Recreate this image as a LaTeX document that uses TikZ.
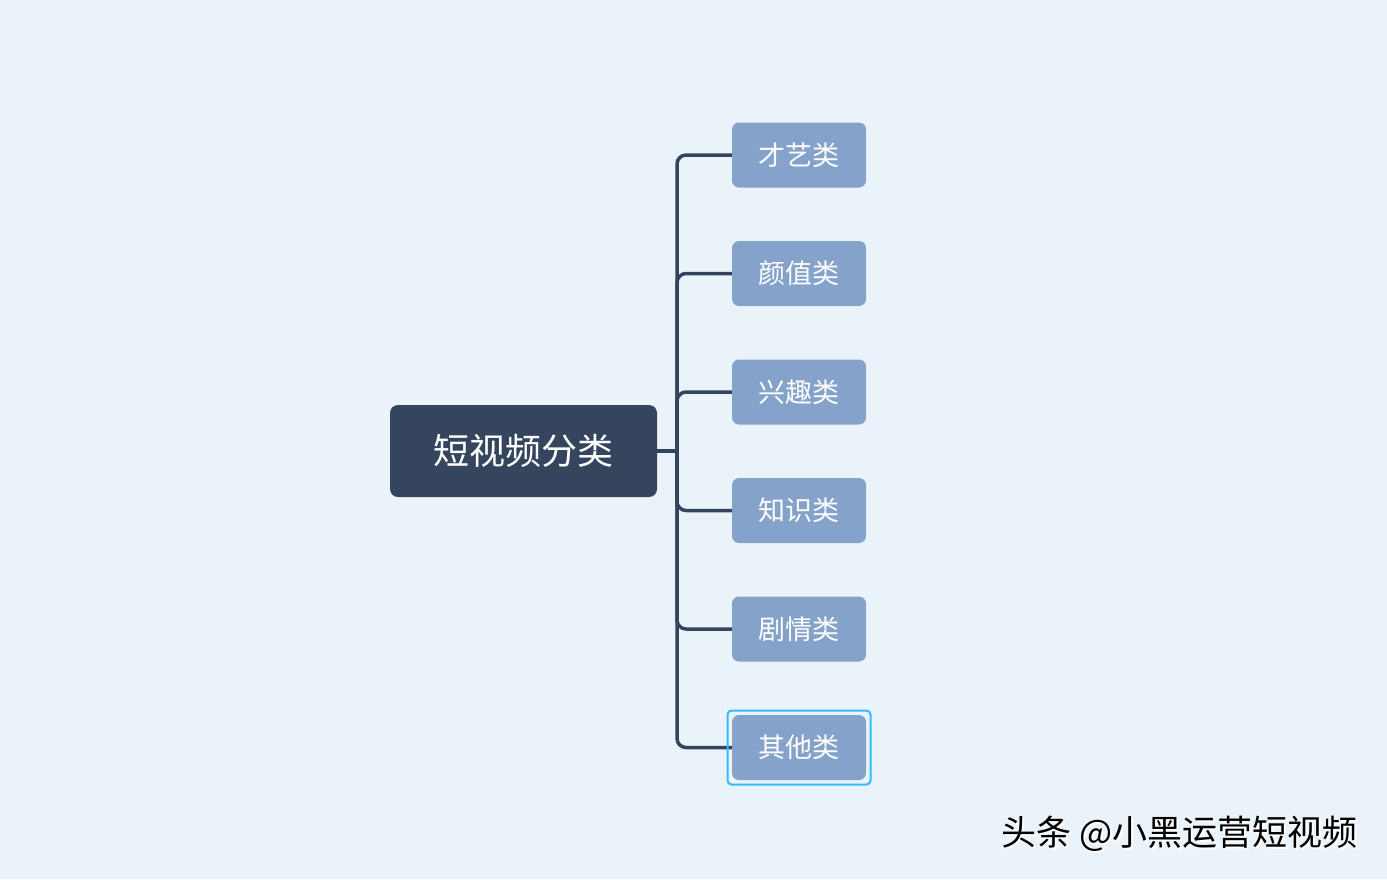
\documentclass[tikz,border=0pt]{standalone}
\usepackage{fontspec}
\newfontfamily\cjk{Noto Sans CJK SC}
\definecolor{bgc}{HTML}{EBF3FA}
\definecolor{rootc}{HTML}{34455D}
\definecolor{childc}{HTML}{85A3CA}
\definecolor{linec}{HTML}{34445C}
\definecolor{selc}{HTML}{2EBDFF}
\begin{document}
\begin{tikzpicture}[x=1pt,y=-1pt,
  rootbox/.style={fill=rootc,rounded corners=8pt,minimum width=267pt,minimum height=92pt,inner sep=0pt,text=white,font=\cjk\fontsize{36}{40}\selectfont},
  childbox/.style={fill=childc,rounded corners=7pt,minimum width=134pt,minimum height=65pt,inner sep=0pt,text=white,font=\cjk\fontsize{27}{30}\selectfont},
  branch/.style={draw=linec,line width=3.5pt,rounded corners=9pt},
  stub/.style={draw=linec,line width=3.5pt},
  selbox/.style={draw=selc,line width=2pt,rounded corners=4pt,minimum width=143pt,minimum height=74pt,inner sep=0pt},
  wmtext/.style={font=\cjk\fontsize{35}{40}\selectfont,anchor=east}
]
\fill[bgc] (0,0) rectangle (1387,879);
\useasboundingbox (0,0) rectangle (1387,879);
\coordinate (jn) at (677,451);
\foreach \y/\n in {155/c1,273.5/c2,392/c3,510.5/c4,629/c5,747.5/c6}{
  \coordinate (\n w) at (732,\y);
  \draw[branch] (jn) |- (\n w);
}
\node[rootbox] (root) at (523.5,451) {短视频分类};
\draw[stub] (root.east) -- (jn);
\node[childbox] (c1) at (799,155) {才艺类};
\node[childbox] (c2) at (799,273.5) {颜值类};
\node[childbox] (c3) at (799,392) {兴趣类};
\node[childbox] (c4) at (799,510.5) {知识类};
\node[childbox] (c5) at (799,629) {剧情类};
\node[childbox] (c6) at (799,747.5) {其他类};
\node[selbox] (sel) at (799,747.5) {};
\node[wmtext,text=white] (wm2) at (1363,836) {头条 @小黑运营短视频};
\node[wmtext,text=black] (wm) at (1361,834) {头条 @小黑运营短视频};
\end{tikzpicture}
\end{document}
